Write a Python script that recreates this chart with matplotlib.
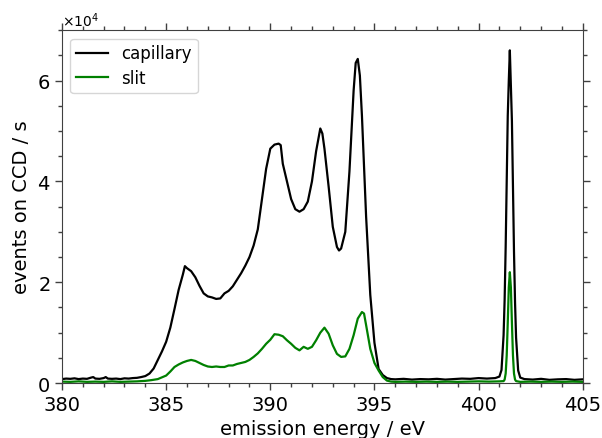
import matplotlib
matplotlib.use('Agg')
import matplotlib.pyplot as plt
from matplotlib.ticker import MultipleLocator

# Emission spectra (energy in eV, events on CCD per s)
cap_e = [380.0, 380.2, 380.4, 380.6, 380.8, 381.0, 381.2, 381.4, 381.5, 381.6, 381.8,
         382.0, 382.1, 382.2, 382.4, 382.6, 382.8, 383.0, 383.2, 383.4, 383.6, 383.8,
         384.0, 384.2, 384.4, 384.6, 384.8, 385.0, 385.2, 385.4, 385.6, 385.8, 385.9,
         386.0, 386.1, 386.2, 386.4, 386.6, 386.8, 387.0, 387.2, 387.4, 387.6, 387.8,
         388.0, 388.2, 388.4, 388.6, 388.8, 389.0, 389.2, 389.4, 389.6, 389.8, 390.0,
         390.2, 390.4, 390.5, 390.6, 390.8, 391.0, 391.2, 391.4, 391.6, 391.8, 392.0,
         392.2, 392.4, 392.5, 392.6, 392.8, 393.0, 393.2, 393.3, 393.4, 393.6, 393.8,
         394.0, 394.1, 394.2, 394.3, 394.4, 394.6, 394.8, 395.0, 395.2, 395.4, 395.6,
         395.8, 396.0, 396.4, 396.8, 397.2, 397.6, 398.0, 398.4, 398.8, 399.2, 399.6,
         400.0, 400.4, 400.8, 401.0, 401.1, 401.2, 401.25, 401.3, 401.35, 401.4, 401.45,
         401.5, 401.55, 401.6, 401.65, 401.7, 401.75, 401.8, 401.9, 402.0, 402.2, 402.6,
         403.0, 403.4, 403.8, 404.2, 404.6, 405.0]
cap_v = [800, 900, 850, 950, 800, 900, 850, 1100, 1200, 900, 850,
         1000, 1200, 900, 850, 900, 800, 950, 900, 1000, 1050, 1200,
         1400, 1900, 2900, 4600, 6300, 8200, 11000, 14700, 18500, 21500, 23200,
         22800, 22500, 22200, 21000, 19300, 17800, 17200, 17000, 16700, 16800, 17800,
         18300, 19200, 20500, 21800, 23300, 25000, 27300, 30500, 36500, 42500, 46500,
         47300, 47500, 47200, 43500, 40000, 36500, 34500, 34000, 34500, 36000, 40000,
         46000, 50500, 49500, 46500, 39000, 31000, 27000, 26300, 26700, 30000, 42000,
         58000, 63500, 64300, 61000, 53000, 33000, 17500, 8000, 2800, 1600, 1000,
         800, 750, 850, 700, 800, 750, 850, 700, 800, 900, 850,
         1000, 900, 1000, 1300, 2600, 9500, 16500, 27000, 40000, 53000, 60000,
         66000, 59000, 52000, 39000, 26000, 16000, 9000, 2500, 1100, 800, 700,
         850, 650, 750, 800, 650, 750]

slit_e = [380.0, 380.4, 380.8, 381.2, 381.6, 382.0, 382.4, 382.8, 383.2, 383.6, 384.0,
          384.3, 384.6, 385.0, 385.2, 385.4, 385.6, 385.8, 386.0, 386.2, 386.4, 386.6,
          386.8, 387.0, 387.2, 387.4, 387.6, 387.8, 388.0, 388.2, 388.4, 388.6, 388.8,
          389.0, 389.2, 389.4, 389.6, 389.8, 390.0, 390.2, 390.4, 390.6, 390.8, 391.0,
          391.2, 391.4, 391.6, 391.8, 392.0, 392.2, 392.4, 392.6, 392.8, 393.0, 393.2,
          393.4, 393.6, 393.8, 394.0, 394.2, 394.4, 394.5, 394.6, 394.8, 395.0, 395.2,
          395.4, 395.6, 395.8, 396.0, 396.5, 397.0, 397.5, 398.0, 398.5, 399.0, 399.5,
          400.0, 400.5, 401.0, 401.2, 401.25, 401.3, 401.35, 401.4, 401.45, 401.5, 401.55,
          401.6, 401.65, 401.7, 401.75, 401.8, 402.0, 402.5, 403.0, 403.5, 404.0, 404.5,
          405.0]
slit_v = [300, 250, 350, 250, 300, 250, 350, 250, 300, 350, 450,
          600, 800, 1500, 2300, 3200, 3700, 4100, 4400, 4600, 4400, 4000,
          3600, 3300, 3200, 3300, 3200, 3200, 3500, 3500, 3800, 4000, 4200,
          4600, 5200, 5900, 6800, 7800, 8600, 9700, 9600, 9300, 8500, 7800,
          7000, 6500, 7200, 6800, 7200, 8500, 10000, 11000, 9800, 7500, 5800,
          5200, 5300, 6800, 9500, 12800, 14100, 13800, 11500, 6800, 4000, 2500,
          1200, 500, 300, 250, 300, 250, 300, 250, 300, 250, 300,
          350, 300, 350, 400, 700, 1900, 5500, 12000, 19000, 22000, 19000,
          12000, 5500, 1900, 700, 400, 250, 300, 250, 300, 250, 300,
          250]

fig = plt.figure(figsize=(6.02, 4.39), dpi=100)
ax = fig.add_axes([0.103, 0.125, 0.865, 0.804])

ax.plot(cap_e, cap_v, color='black', lw=1.6, label='capillary')
ax.plot(slit_e, slit_v, color='green', lw=1.6, label='slit')

ax.set_xlim(380, 405)
ax.set_ylim(0, 70000)
ax.xaxis.set_major_locator(MultipleLocator(5))
ax.xaxis.set_minor_locator(MultipleLocator(1))
ax.yaxis.set_major_locator(MultipleLocator(20000))
ax.yaxis.set_minor_locator(MultipleLocator(5000))
ax.ticklabel_format(axis='y', style='sci', scilimits=(0, 0), useMathText=True)
ax.yaxis.get_offset_text().set_fontsize(10)

gray = '#404040'
for sp in ax.spines.values():
    sp.set_color(gray)
ax.tick_params(which='both', direction='out', top=True, right=True, colors=gray,
               labelcolor='black', labelsize=14)
ax.tick_params(which='major', length=5, width=1)
ax.tick_params(which='minor', length=3, width=1)

ax.set_xlabel('emission energy / eV', fontsize=14, labelpad=4)
ax.set_ylabel('events on CCD / s', fontsize=14)

ax.legend(loc='upper left', fontsize=12, handlelength=1.9, borderpad=0.35,
          labelspacing=0.4)

fig.savefig('out.png', dpi=100)
